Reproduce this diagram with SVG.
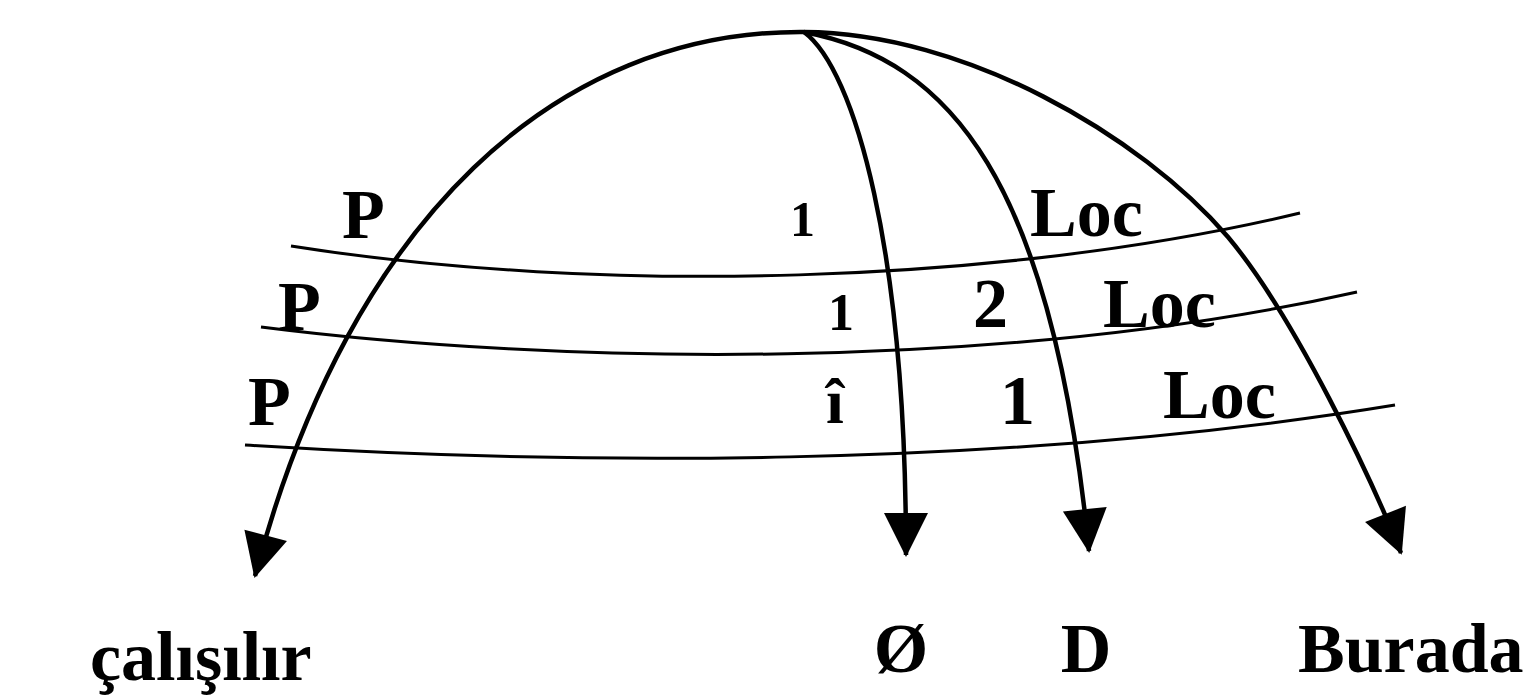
<svg xmlns="http://www.w3.org/2000/svg" width="1535" height="696" viewBox="0 0 1535 696">
<style>
.t{font-family:"Liberation Serif","Times New Roman",serif;fill:#000;font-weight:bold}
.b{font-size:70px}
.m{font-size:52px}
.arc{fill:none;stroke:#000;stroke-width:4.5}
.ln{fill:none;stroke:#000;stroke-width:3}
</style>
<defs>
<marker id="ah" markerUnits="userSpaceOnUse" markerWidth="60" markerHeight="60" refX="0" refY="0" viewBox="-50 -30 60 60" orient="auto">
<path d="M2,0 L-42,-22 L-42,22 Z" fill="#000"/>
</marker>
</defs>
<rect width="1535" height="696" fill="#fff"/>
<g id="connectors">
<path class="ln" d="M291 246 C600 295 1000 285 1300 213"/>
<path class="ln" d="M261 327 C560 365 1000 372 1357 292"/>
<path class="ln" d="M245 445 C560 465 1000 470 1395 405"/>
<path class="arc" d="M804 32 C560 30 350 215 255 576" marker-end="url(#ah)"/>
<path class="arc" d="M804 32 C855 70 906 250 906 555" marker-end="url(#ah)"/>
<path class="arc" d="M804 32 C950 60 1052 180 1089 551" marker-end="url(#ah)"/>
<path class="arc" d="M804 32 C965 33 1140 135 1228 237 C1295 317 1372 480 1401 553" marker-end="url(#ah)"/>
</g>
<g id="labels">
<text class="t b" x="342" y="238">P</text>
<text class="t" style="font-size:50px" x="790" y="236">1</text>
<text class="t b" x="1030" y="236">Loc</text>
<text class="t b" x="278" y="330">P</text>
<text class="t m" x="828" y="330">1</text>
<text class="t b" x="973" y="327">2</text>
<text class="t b" x="1103" y="327">Loc</text>
<text class="t b" x="248" y="425">P</text>
<text class="t" style="font-size:64px" x="826" y="423">î</text>
<text class="t b" x="1000" y="424">1</text>
<text class="t b" x="1163" y="418">Loc</text>
</g>
<g id="node-calisilir"><text class="t b" x="90" y="680">çalışılır</text></g>
<g id="node-empty"><text class="t b" x="901" y="672" text-anchor="middle">Ø</text></g>
<g id="node-D"><text class="t b" x="1086" y="672" text-anchor="middle">D</text></g>
<g id="node-Burada"><text class="t b" x="1298" y="672">Burada</text></g>
</svg>
